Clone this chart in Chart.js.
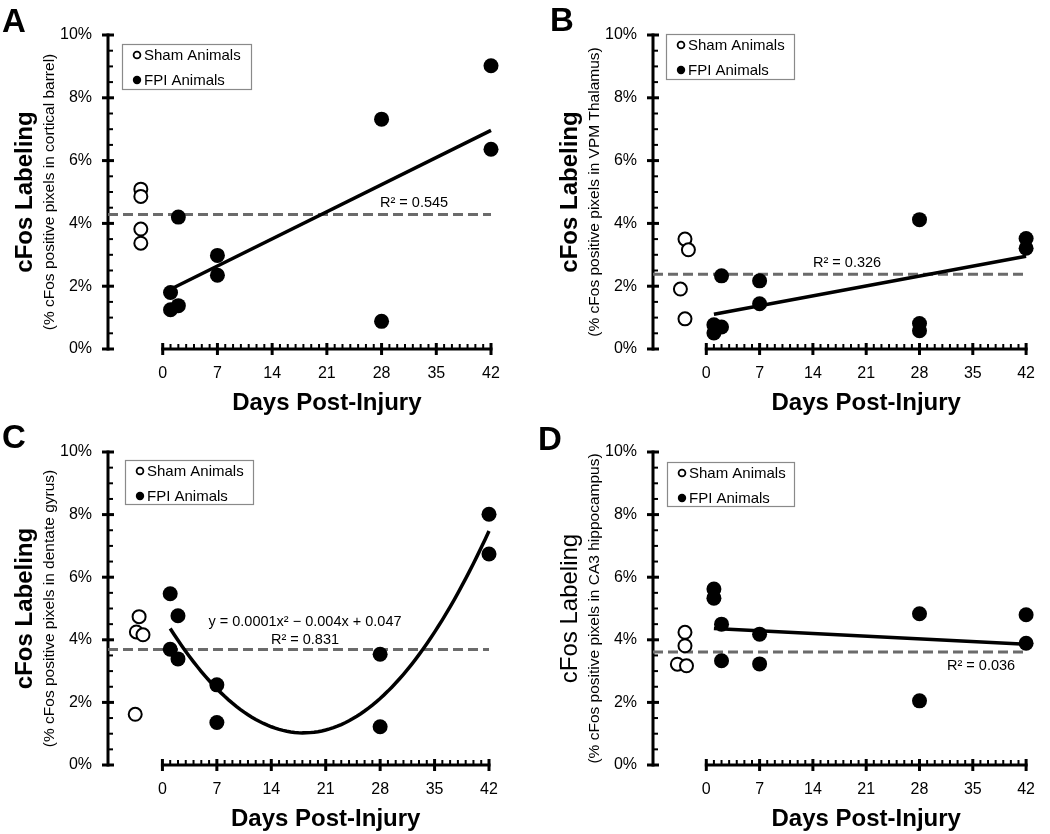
<!DOCTYPE html>
<html>
<head>
<meta charset="utf-8">
<script src="https://cdn.jsdelivr.net/npm/chart.js@4.4.1/dist/chart.umd.min.js"></script>
<style>
  html, body { margin: 0; padding: 0; background: #fff; }
  #figure { position: relative; width: 1050px; height: 834px; }
  #figure canvas { position: absolute; }
</style>
</head>
<body>
<div id="figure">
  <canvas id="panelA" width="525" height="417" style="left:0;top:0"></canvas>
  <canvas id="panelB" width="525" height="417" style="left:525px;top:0"></canvas>
  <canvas id="panelC" width="525" height="417" style="left:0;top:417px"></canvas>
  <canvas id="panelD" width="525" height="417" style="left:525px;top:417px"></canvas>
</div>
<script>
  // tick labels
  const dayTicks = [0, 7, 14, 21, 28, 35, 42];
  const percentTicks = [0, 2, 4, 6, 8, 10];

  // A - cortical barrel
  const shamDaysA = [-2.8, -2.8, -2.8, -2.8];
  const shamValuesA = [5.09, 4.86, 3.82, 3.37];
  const fpiDaysA = [1, 1, 2, 2, 7, 7, 28, 28, 42, 42];
  const fpiValuesA = [1.80, 1.25, 4.20, 1.38, 2.98, 2.35, 7.32, 0.88, 9.02, 6.36];

  // B - VPM thalamus
  const shamDaysB = [-2.8, -2.35, -3.4, -2.8];
  const shamValuesB = [3.50, 3.16, 1.91, 0.96];
  const fpiDaysB = [1, 1, 2, 2, 7, 7, 28, 28, 28, 42, 42];
  const fpiValuesB = [0.77, 0.51, 2.33, 0.70, 2.17, 1.44, 4.12, 0.81, 0.58, 3.52, 3.21];

  // C - dentate gyrus
  const shamDaysC = [-3.0, -3.35, -2.5, -3.5];
  const shamValuesC = [4.74, 4.25, 4.16, 1.62];
  const fpiDaysC = [1, 1, 2, 2, 7, 7, 28, 28, 42, 42];
  const fpiValuesC = [5.47, 3.70, 4.77, 3.39, 2.56, 1.36, 3.54, 1.22, 8.01, 6.74];

  // D - CA3 hippocampus
  const shamDaysD = [-2.8, -2.8, -3.8, -2.6];
  const shamValuesD = [4.24, 3.81, 3.22, 3.17];
  const fpiDaysD = [1, 1, 2, 2, 7, 7, 28, 28, 42, 42];
  const fpiValuesD = [5.62, 5.33, 4.50, 3.33, 4.18, 3.23, 4.83, 2.05, 4.80, 3.89];

  const FONT = '"Liberation Sans", Arial, Helvetica, sans-serif';
  Chart.defaults.font.family = FONT;
  Chart.defaults.color = '#000';

  const panels = [
    {
      id: 'panelA', letter: 'A', letterX: 2, letterY: 32, region: 'cortical barrel', boldTitle: true,
      shamDays: shamDaysA, shamValues: shamValuesA, fpiDays: fpiDaysA, fpiValues: fpiValuesA, fitDegree: 1,
      area: { left: 108, right: 491, top: 35, bottom: 349 },
      legend: { x: 122, y: 44, w: 129, h: 45 },
      notes: [{ text: 'R\u00b2 = 0.545', x: 380, y: 203, align: 'left' }]
    },
    {
      id: 'panelB', letter: 'B', letterX: 25, letterY: 31, region: 'VPM Thalamus', boldTitle: true,
      shamDays: shamDaysB, shamValues: shamValuesB, fpiDays: fpiDaysB, fpiValues: fpiValuesB, fitDegree: 1,
      area: { left: 128, right: 511, top: 35, bottom: 349 },
      legend: { x: 141, y: 34, w: 128, h: 45 },
      notes: [{ text: 'R\u00b2 = 0.326', x: 288, y: 263, align: 'left' }]
    },
    {
      id: 'panelC', letter: 'C', letterX: 2, letterY: 31, region: 'dentate gyrus', boldTitle: true,
      shamDays: shamDaysC, shamValues: shamValuesC, fpiDays: fpiDaysC, fpiValues: fpiValuesC, fitDegree: 2,
      area: { left: 108, right: 489, top: 35, bottom: 348 },
      legend: { x: 125, y: 43, w: 128, h: 44 },
      notes: [
        { text: 'y = 0.0001x\u00b2 \u2212 0.004x + 0.047', x: 305, y: 205, align: 'center' },
        { text: 'R\u00b2 = 0.831', x: 305, y: 223, align: 'center' }
      ]
    },
    {
      id: 'panelD', letter: 'D', letterX: 13, letterY: 33, region: 'CA3 hippocampus', boldTitle: false,
      shamDays: shamDaysD, shamValues: shamValuesD, fpiDays: fpiDaysD, fpiValues: fpiValuesD, fitDegree: 1,
      area: { left: 128, right: 511, top: 35, bottom: 348 },
      legend: { x: 142, y: 45, w: 127, h: 44 },
      notes: [{ text: 'R\u00b2 = 0.036', x: 422, y: 249, align: 'left' }]
    }
  ];

  const toPoints = (xs, ys) => xs.map((x, i) => ({ x, y: ys[i] }));
  const mean = (values) => values.reduce((a, b) => a + b, 0) / values.length;

  // least squares polynomial fit (degree 1 or 2), returns coefficients c0 + c1 x + c2 x^2
  const polyFit = (xs, ys, degree) => {
    const n = degree + 1;
    const m = [];
    for (let r = 0; r < n; r += 1) {
      const row = [];
      for (let c = 0; c < n; c += 1) {
        row.push(xs.reduce((s, x) => s + Math.pow(x, r + c), 0));
      }
      row.push(xs.reduce((s, x, i) => s + Math.pow(x, r) * ys[i], 0));
      m.push(row);
    }
    for (let col = 0; col < n; col += 1) {
      for (let r = col + 1; r < n; r += 1) {
        const f = m[r][col] / m[col][col];
        for (let c = col; c <= n; c += 1) m[r][c] -= f * m[col][c];
      }
    }
    const coef = new Array(n).fill(0);
    for (let r = n - 1; r >= 0; r -= 1) {
      let s = m[r][n];
      for (let c = r + 1; c < n; c += 1) s -= m[r][c] * coef[c];
      coef[r] = s / m[r][r];
    }
    return coef;
  };

  const fitLine = (xs, ys, degree) => {
    const coef = polyFit(xs, ys, degree);
    const lo = Math.min(...xs);
    const hi = Math.max(...xs);
    const steps = degree === 1 ? 1 : 82;
    const pts = [];
    for (let i = 0; i <= steps; i += 1) {
      const x = lo + (hi - lo) * i / steps;
      pts.push({ x, y: coef.reduce((s, c, k) => s + c * Math.pow(x, k), 0) });
    }
    return pts;
  };

  const drawLine = (ctx, x1, y1, x2, y2) => {
    ctx.beginPath();
    ctx.moveTo(x1, y1);
    ctx.lineTo(x2, y2);
    ctx.stroke();
  };

  const makeDecor = (panel) => ({
    id: 'decor' + panel.letter,
    beforeDatasetsDraw(chart) {
      const { ctx } = chart;
      const xs = chart.scales.x;
      const ys = chart.scales.y;
      const ax = xs.getPixelForValue(-7);
      const y0 = ys.getPixelForValue(0);
      const yTop = ys.getPixelForValue(10);
      ctx.save();
      ctx.strokeStyle = '#000';
      ctx.lineCap = 'butt';
      // y axis
      ctx.lineWidth = 3;
      drawLine(ctx, ax, y0 + 1.5, ax, yTop - 1.5);
      for (let v = 0; v <= 10.001; v += 0.5) {
        const py = ys.getPixelForValue(v);
        const major = Math.abs(v % 2) < 0.01;
        ctx.lineWidth = major ? 3 : 2;
        if (major) drawLine(ctx, ax - 6, py, ax + 6, py);
        else drawLine(ctx, ax, py, ax + 5, py);
      }
      // x axis (0..42 only)
      const x0 = xs.getPixelForValue(0);
      const x42 = xs.getPixelForValue(42);
      ctx.lineWidth = 3;
      drawLine(ctx, x0 - 1.5, y0, x42 + 1.5, y0);
      for (let d = 0; d <= 42; d += 1) {
        const px = xs.getPixelForValue(d);
        if (dayTicks.includes(d)) {
          ctx.lineWidth = 3;
          drawLine(ctx, px, y0 - 6, px, y0 + 6);
        } else {
          ctx.lineWidth = 2;
          drawLine(ctx, px, y0, px, y0 - 5);
        }
      }
      ctx.restore();
    },
    afterDraw(chart) {
      const { ctx, chartArea } = chart;
      const xs = chart.scales.x;
      ctx.save();
      ctx.fillStyle = '#000';

      // panel letter
      ctx.font = 'bold 33px ' + FONT;
      ctx.textAlign = 'left';
      ctx.textBaseline = 'alphabetic';
      ctx.fillText(panel.letter, panel.letterX, panel.letterY);

      // y titles
      const midY = (chartArea.top + chartArea.bottom) / 2;
      ctx.save();
      ctx.translate(chartArea.left - 83, midY);
      ctx.rotate(-Math.PI / 2);
      ctx.textAlign = 'center';
      ctx.textBaseline = 'middle';
      ctx.font = (panel.boldTitle ? 'bold ' : '') + '24px ' + FONT;
      ctx.fillText('cFos Labeling', 0, 0);
      ctx.restore();
      ctx.save();
      ctx.translate(chartArea.left - 58, midY);
      ctx.rotate(-Math.PI / 2);
      ctx.textAlign = 'center';
      ctx.textBaseline = 'middle';
      ctx.font = '15.5px ' + FONT;
      ctx.fillText('(% cFos positive pixels in ' + panel.region + ')', 0, 0);
      ctx.restore();

      // x title
      const cx = (xs.getPixelForValue(0) + xs.getPixelForValue(42)) / 2;
      ctx.font = 'bold 24px ' + FONT;
      ctx.textAlign = 'center';
      ctx.textBaseline = 'middle';
      ctx.fillText('Days Post-Injury', cx, chartArea.bottom + 54);

      // legend
      const lg = panel.legend;
      ctx.fillStyle = '#fff';
      ctx.fillRect(lg.x, lg.y, lg.w, lg.h);
      ctx.strokeStyle = '#8a8a8a';
      ctx.lineWidth = 1.2;
      ctx.strokeRect(lg.x + 0.5, lg.y + 0.5, lg.w, lg.h);
      const rows = [
        { label: 'Sham Animals', open: true, y: lg.y + 11 },
        { label: 'FPI Animals', open: false, y: lg.y + 36 }
      ];
      rows.forEach((row) => {
        ctx.beginPath();
        ctx.arc(lg.x + 15, row.y, row.open ? 3.4 : 4.2, 0, Math.PI * 2);
        if (row.open) {
          ctx.fillStyle = '#fff';
          ctx.fill();
          ctx.strokeStyle = '#000';
          ctx.lineWidth = 1.8;
          ctx.stroke();
        } else {
          ctx.fillStyle = '#000';
          ctx.fill();
        }
        ctx.fillStyle = '#000';
        ctx.font = '15px ' + FONT;
        ctx.textAlign = 'left';
        ctx.textBaseline = 'middle';
        ctx.fillText(row.label, lg.x + 22, row.y + 1);
      });

      // fit annotations
      ctx.font = '14.5px ' + FONT;
      ctx.textBaseline = 'middle';
      panel.notes.forEach((note) => {
        ctx.textAlign = note.align;
        ctx.fillText(note.text, note.x, note.y);
      });
      ctx.restore();
    }
  });

  const buildChart = (panel) => {
    const canvas = document.getElementById(panel.id);
    const W = canvas.width;
    const H = canvas.height;
    const shamMean = mean(panel.shamValues);

    return new Chart(canvas, {
      type: 'scatter',
      data: {
        datasets: [
          {
            label: 'Fit',
            type: 'line',
            data: fitLine(panel.fpiDays, panel.fpiValues, panel.fitDegree),
            borderColor: '#000',
            borderWidth: 3.5,
            pointRadius: 0,
            tension: 0,
            fill: false,
            clip: false,
            order: 0
          },
          {
            label: 'FPI Animals',
            data: toPoints(panel.fpiDays, panel.fpiValues),
            backgroundColor: '#000',
            borderColor: '#000',
            borderWidth: 0,
            pointRadius: 7.5,
            clip: false,
            order: 1
          },
          {
            label: 'Sham Animals',
            data: toPoints(panel.shamDays, panel.shamValues),
            backgroundColor: '#fff',
            borderColor: '#000',
            borderWidth: 2,
            pointRadius: 6.5,
            clip: false,
            order: 2
          },
          {
            label: 'Sham mean',
            type: 'line',
            data: [{ x: -7, y: shamMean }, { x: 42, y: shamMean }],
            borderColor: '#6b6b6b',
            borderWidth: 3,
            borderDash: [10, 5],
            pointRadius: 0,
            fill: false,
            clip: false,
            order: 3
          }
        ]
      },
      options: {
        responsive: false,
        animation: false,
        events: [],
        layout: {
          padding: { left: 0, top: panel.area.top, right: W - panel.area.right, bottom: 0 }
        },
        plugins: {
          legend: { display: false },
          tooltip: { enabled: false }
        },
        scales: {
          x: {
            type: 'linear',
            min: -7,
            max: 42,
            grid: { display: false, drawTicks: false },
            border: { display: false },
            afterBuildTicks: (scale) => { scale.ticks = dayTicks.map((v) => ({ value: v })); },
            afterFit: (scale) => { scale.height = H - panel.area.bottom; },
            ticks: { font: { size: 16 }, padding: 15, maxRotation: 0, autoSkip: false }
          },
          y: {
            type: 'linear',
            min: 0,
            max: 10,
            grid: { display: false, drawTicks: false },
            border: { display: false },
            afterBuildTicks: (scale) => { scale.ticks = percentTicks.map((v) => ({ value: v })); },
            afterFit: (scale) => { scale.width = panel.area.left; },
            ticks: { font: { size: 16 }, padding: 16, callback: (v) => v + '%' }
          }
        }
      },
      plugins: [makeDecor(panel)]
    });
  };

  panels.forEach(buildChart);
</script>
</body>
</html>
